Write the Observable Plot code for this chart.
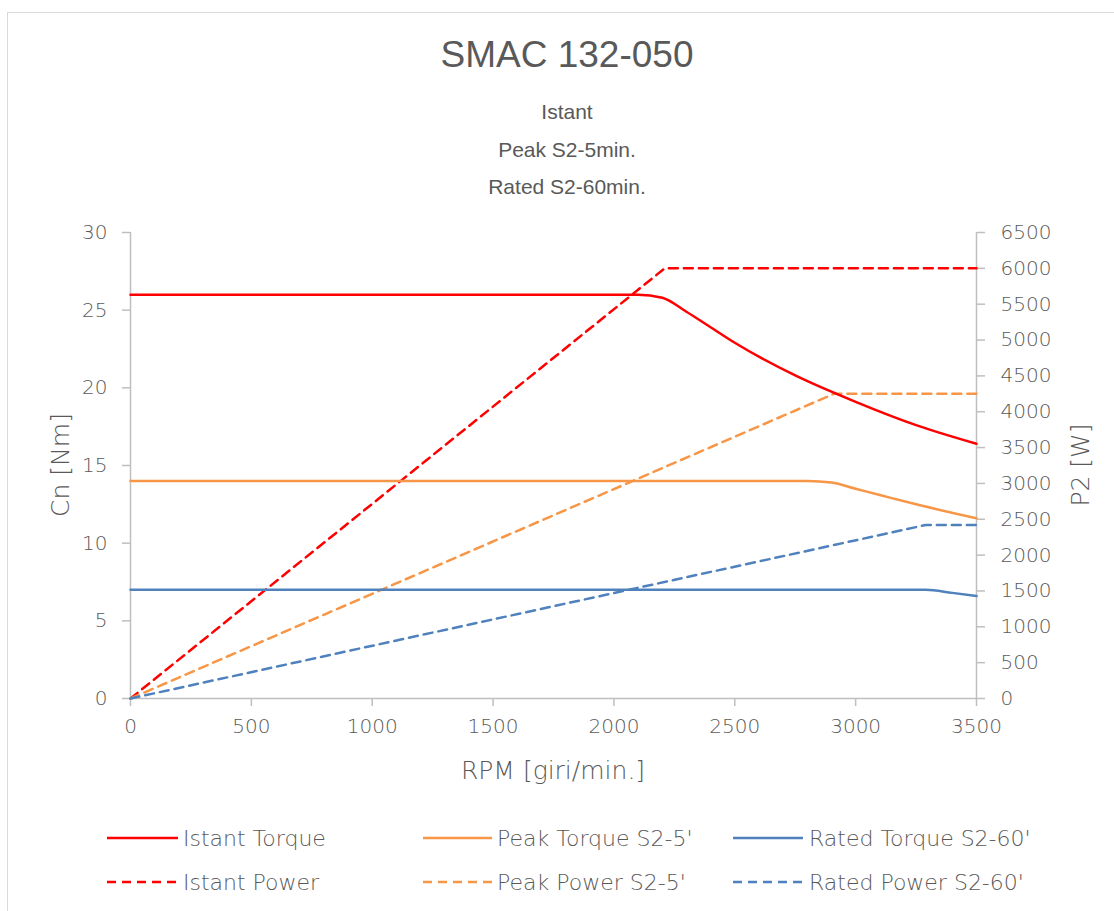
<!DOCTYPE html>
<html>
<head>
<meta charset="utf-8">
<script src="https://cdn.jsdelivr.net/npm/d3@7"></script>
<script src="https://cdn.jsdelivr.net/npm/@observablehq/plot@0.6"></script>
<style>
  html, body { margin: 0; padding: 0; background: #fff; }
  #wrap { position: relative; width: 1114px; height: 911px; overflow: hidden; font-family: "DejaVu Sans", sans-serif; font-weight: 200; color: #595959; }
  #frame { position: absolute; left: 7px; top: 12px; width: 1200px; height: 1000px; border: 1px solid #d9d9d9; box-sizing: border-box; }
  .t { position: absolute; white-space: nowrap; }
  #title { left: 567px; top: 55px; transform: translate(-50%, -50%); font-family: "Liberation Sans", Arial, sans-serif; font-weight: 400; font-size: 37px; }
  .sub { left: 567px; transform: translate(-50%, -50%); font-family: "Liberation Sans", Arial, sans-serif; font-weight: 400; font-size: 21px; }
  .axt { font-size: 25px; }
  #plot { position: absolute; left: 0; top: 200px; }
  .leg { position: absolute; height: 24px; }
  .leg svg { position: absolute; left: 0; top: 0; overflow: visible; }
  .leg span { position: absolute; top: 50%; transform: translateY(-50%); font-size: 22px; white-space: nowrap; }
</style>
</head>
<body>
<div id="wrap">
  <div id="frame"></div>
  <div id="title" class="t">SMAC 132-050</div>
  <div class="t sub" style="top:112px">Istant</div>
  <div class="t sub" style="top:150px">Peak S2-5min.</div>
  <div class="t sub" style="top:187px">Rated S2-60min.</div>
  <div id="plot"></div>
  <div class="t axt" style="left:60px; top:465px; transform: translate(-50%,-50%) rotate(-90deg);">Cn [Nm]</div>
  <div class="t axt" style="left:1080px; top:465px; transform: translate(-50%,-50%) rotate(-90deg);">P2 [W]</div>
  <div class="t axt" style="left:553px; top:770px; transform: translate(-50%,-50%);">RPM [giri/min.]</div>
  <div id="legend"></div>
</div>
<script>
// ---- data ----
const istantTorqueRpm = [0, 500, 1000, 1500, 2000, 2100, 2200, 2300, 2400, 2500, 2750, 3000, 3250, 3500];
const istantTorque    = [26, 26, 26, 26, 26, 26, 25.8, 24.9, 23.9, 22.9, 20.8, 19.1, 17.6, 16.4];
const istantPowerRpm  = [0, 2210, 3500];
const istantPower     = [0, 6000, 6000];

const peakTorqueRpm = [0, 500, 1000, 1500, 2000, 2500, 2800, 2900, 3000, 3100, 3250, 3500];
const peakTorque    = [14, 14, 14, 14, 14, 14, 14, 13.9, 13.5, 13.1, 12.5, 11.6];
const peakPowerRpm  = [0, 2910, 3500];
const peakPower     = [0, 4250, 4250];

const ratedTorqueRpm = [0, 500, 1000, 1500, 2000, 2500, 3000, 3290, 3400, 3500];
const ratedTorque    = [7, 7, 7, 7, 7, 7, 7, 7, 6.8, 6.6];
const ratedPowerRpm  = [0, 3290, 3500];
const ratedPower     = [0, 2420, 2420];

const xTicks = [0, 500, 1000, 1500, 2000, 2500, 3000, 3500];
const torqueTicks = [0, 5, 10, 15, 20, 25, 30];
const powerTicks = [0, 500, 1000, 1500, 2000, 2500, 3000, 3500, 4000, 4500, 5000, 5500, 6000, 6500];

const seriesNames = ["Istant Torque", "Peak Torque S2-5'", "Rated Torque S2-60'", "Istant Power", "Peak Power S2-5'", "Rated Power S2-60'"];
const seriesColors = ["#FF0000", "#F79646", "#4F81BD"];

// ---- build ----
const k = 30 / 6500;
const zip = (xs, ys) => xs.map((x, i) => ({x, y: ys[i]}));
const torqueSeries = [
  zip(istantTorqueRpm, istantTorque),
  zip(peakTorqueRpm, peakTorque),
  zip(ratedTorqueRpm, ratedTorque)
];
const powerSeries = [
  zip(istantPowerRpm, istantPower),
  zip(peakPowerRpm, peakPower),
  zip(ratedPowerRpm, ratedPower)
];

const axisColor = "#bfbfbf";
const textColor = "#595959";
const dash = "9,6";
const tickFont = 20;

const marks = [
  Plot.ruleY([0], {stroke: axisColor, strokeWidth: 1.5}),
  Plot.ruleX([0], {y1: 0, y2: 30, stroke: axisColor, strokeWidth: 1.5}),
  Plot.ruleX([3500], {y1: 0, y2: 30, stroke: axisColor, strokeWidth: 1.5}),
  Plot.axisX(xTicks, {tickSize: 8, tickPadding: 12, stroke: axisColor, strokeWidth: 1.5, fill: textColor, label: null, fontSize: tickFont, tickFormat: d => String(d)}),
  Plot.axisY(torqueTicks, {anchor: "left", tickSize: 8, tickPadding: 15, stroke: axisColor, strokeWidth: 1.5, fill: textColor, label: null, fontSize: tickFont, tickFormat: d => String(d)}),
  Plot.axisY(powerTicks.map(p => p * k), {anchor: "right", tickSize: 8, tickPadding: 16, stroke: axisColor, strokeWidth: 1.5, fill: textColor, label: null, fontSize: tickFont, tickFormat: d => String(Math.round(d / k))})
];
powerSeries.forEach((s, i) => {
  marks.push(Plot.line(s, {x: "x", y: d => d.y * k, stroke: seriesColors[i], strokeWidth: 2.5, strokeDasharray: dash}));
});
torqueSeries.forEach((s, i) => {
  marks.push(Plot.line(s, {x: "x", y: "y", stroke: seriesColors[i], strokeWidth: 2.5, curve: "monotone-x"}));
});

const chart = Plot.plot({
  width: 1114,
  height: 600,
  marginLeft: 130,
  marginRight: 138,
  marginTop: 32,
  marginBottom: 102,
  x: {domain: [0, 3500]},
  y: {domain: [0, 30]},
  style: {fontFamily: "'DejaVu Sans', sans-serif", fontWeight: 200, color: textColor, background: "transparent", overflow: "visible"},
  marks
});
document.getElementById("plot").appendChild(chart);

// ---- legend ----
const legend = document.getElementById("legend");
const cols = [{x1: 107, x2: 178, tx: 183}, {x1: 423, x2: 492, tx: 497}, {x1: 733, x2: 803, tx: 809}];
const rows = [838, 882];
seriesNames.forEach((name, i) => {
  const c = cols[i % 3], r = rows[Math.floor(i / 3)];
  const item = document.createElement("div");
  item.className = "leg";
  item.style.left = c.x1 + "px";
  item.style.top = (r - 12) + "px";
  const w = c.x2 - c.x1;
  item.innerHTML = `<svg width="${w}" height="24"><line x1="0" x2="${w}" y1="12" y2="12" stroke="${seriesColors[i % 3]}" stroke-width="2.5" ${i >= 3 ? `stroke-dasharray="${dash}"` : ""}/></svg><span style="left:${c.tx - c.x1}px">${name}</span>`;
  legend.appendChild(item);
});
</script>
</body>
</html>
